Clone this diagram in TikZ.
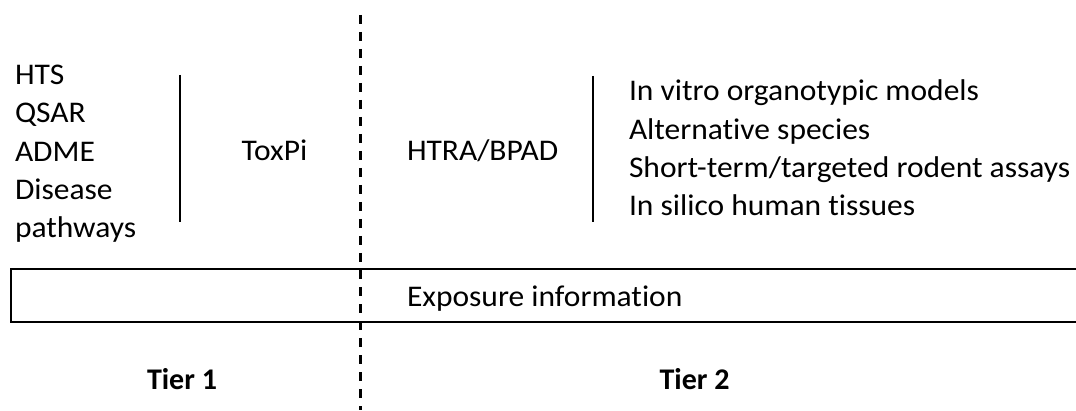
\documentclass[tikz,border=0pt]{standalone}
\usepackage{fontspec}
\setmainfont{Carlito}[Ligatures=NoCommon, FakeStretch=1.05,
  BoldFeatures={FakeStretch=1.0}]
\usepackage{tikz}
\usetikzlibrary{positioning, calc}
\tikzset{
  txt/.style={
    inner sep=0pt, outer sep=0pt,
    font=\fontsize{30}{38.3}\selectfont
  },
  lst/.style={txt, align=left},
  tierlbl/.style={txt, font=\fontsize{30}{36}\selectfont\bfseries},
  sep/.style={line width=2pt},
  tierline/.style={line width=3pt, dash pattern=on 9pt off 8pt},
  expbox/.style={line width=2pt}
}

\begin{document}
\begin{tikzpicture}[x=1pt, y=1pt]
  \useasboundingbox (0,0) rectangle (1076,410);

  % Tier 1 block
  \node[lst, anchor=west] (tools) at (15,256.2)
        {HTS\\QSAR\\ADME\\Disease\\pathways};
  \coordinate (s1top) at (180,335);
  \coordinate (s1bot) at (180,188);
  \draw[sep] (s1top) -- (s1bot);
  \node[txt, anchor=base] (toxpi) at (274.5,249) {ToxPi};

  % Tier 2 block
  \node[txt, anchor=base west] (htra) at (407,249) {HTRA/BPAD};
  \coordinate (s2top) at (593,334);
  \coordinate (s2bot) at (593,188);
  \draw[sep] (s2top) -- (s2bot);
  \node[lst, anchor=west] (models) at (629,262)
        {In vitro organotypic models\\Alternative species\\
         Short-term/targeted rodent assays\\In silico human tissues};

  % exposure band
  \draw[expbox] (11,88) rectangle (1085,141);
  \node[txt, anchor=base west] (expo) at (407,104) {Exposure information};

  % tiers
  \coordinate (ttop) at (360,395);
  \coordinate (tbot) at (360,0);
  \draw[tierline] (ttop) -- (tbot);
  \node[tierlbl, anchor=base] (t1) at (182,21) {Tier 1};
  \node[tierlbl, anchor=base] (t2) at (694.5,21) {Tier 2};
\end{tikzpicture}
\end{document}
